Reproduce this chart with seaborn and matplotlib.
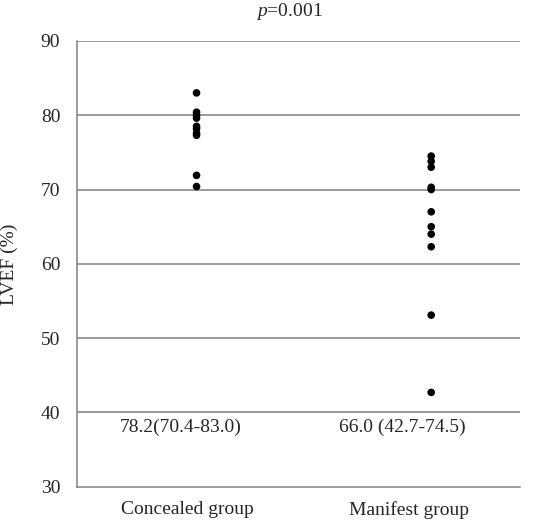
import numpy as np
import pandas as pd
import matplotlib.pyplot as plt
import seaborn as sns

# values
concealed = [83.0, 80.4, 80.0, 79.6, 78.5, 78.2, 77.6, 77.3, 71.9, 70.4]
manifest = [74.5, 73.8, 73.0, 70.3, 70.0, 67.0, 65.0, 64.0, 62.3, 53.1, 42.7]
groups = ["Concealed group", "Manifest group"]
summaries = ["78.2(70.4-83.0)", "66.0 (42.7-74.5)"]
p_text = "=0.001"
yticks = [30, 40, 50, 60, 70, 80, 90]

# dots sit a little right of the category centres in the original
dot_pos = {"Concealed group": 0.04, "Manifest group": 1.1}

df = pd.DataFrame({
    "group": ["Concealed group"] * len(concealed) + ["Manifest group"] * len(manifest),
    "LVEF": concealed + manifest,
})
df["pos"] = df["group"].map(dot_pos)

sns.set_style("white")
plt.rcParams["font.family"] = ["Liberation Serif", "DejaVu Serif"]
plt.rcParams["mathtext.fontset"] = "custom"
plt.rcParams["mathtext.it"] = "Liberation Serif:italic"
plt.rcParams["mathtext.rm"] = "Liberation Serif"

fs = 14
fig = plt.figure(figsize=(5.5, 5.24), dpi=100)
ax = fig.add_axes([0.14, 0.071, 0.805, 0.851])

for t in yticks[1:]:
    ax.axhline(t, color="#808080", lw=1.1, zorder=1)

sns.scatterplot(data=df, x="pos", y="LVEF", color="black", s=30,
                edgecolor="none", ax=ax, zorder=3, legend=False)

ax.set_xlim(-0.5, 1.5)
ax.set_ylim(30, 90)
ax.set_yticks(yticks)
ax.set_xticks([0, 1])
ax.set_xticklabels(groups)
ax.tick_params(axis="both", length=0, labelsize=fs)
ax.tick_params(axis="y", pad=12)
ax.tick_params(axis="x", pad=10)
ax.set_xlabel("")
ax.set_ylabel("LVEF (%)", fontsize=fs)
ax.yaxis.set_label_coords(-0.133, 0.5)

for s in ["top", "right"]:
    ax.spines[s].set_visible(False)
for s in ["left", "bottom"]:
    ax.spines[s].set_color("#808080")
    ax.spines[s].set_linewidth(1.1)

for i, txt in enumerate(summaries):
    ax.text(i - 0.03, 38.0, txt, ha="center", va="center", fontsize=fs)

ax.text(0.48, 1.065, r"$\it{p}$" + p_text, transform=ax.transAxes,
        ha="center", va="center", fontsize=fs)

fig.savefig("out.png", dpi=100)
